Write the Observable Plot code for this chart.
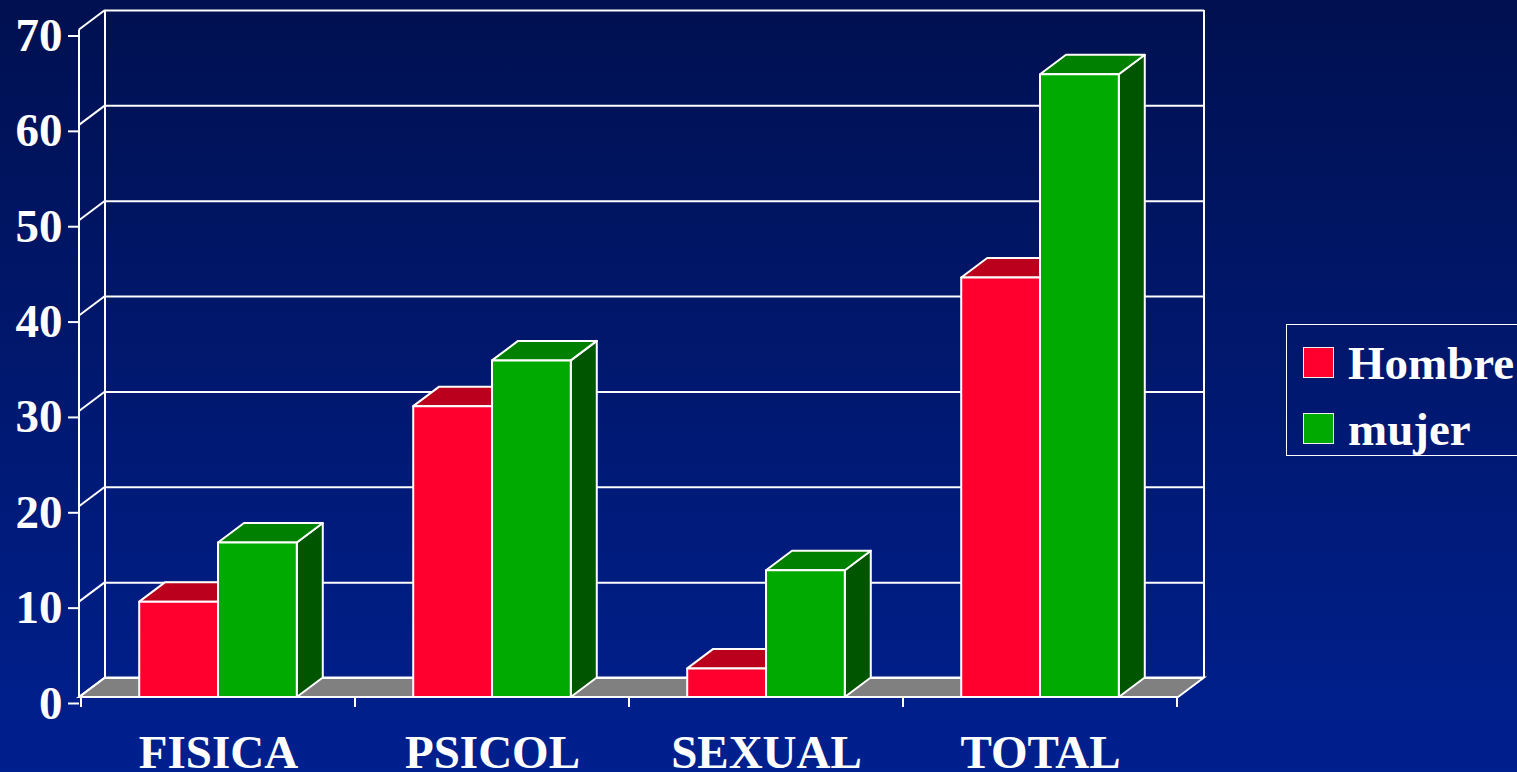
<!DOCTYPE html>
<html>
<head>
<meta charset="utf-8">
<script src="https://cdn.jsdelivr.net/npm/d3@7"></script>
<script src="https://cdn.jsdelivr.net/npm/@observablehq/plot@0.6"></script>
<style>
  html, body { margin: 0; padding: 0; width: 1517px; height: 772px; overflow: hidden; }
  body { background: linear-gradient(to bottom, #001050 0%, #00208f 100%); position: relative; }
  #chart { position: absolute; left: 0; top: 0; }
  #legend { position: absolute; left: 1286px; top: 324px; width: 280px; height: 132px;
            border: 1.5px solid #ffffff; box-sizing: border-box;
            font-family: "Liberation Serif", "Times New Roman", serif; font-weight: bold; font-size: 47px; color: #fff; }
  #legend .sw { position: absolute; left: 16px; width: 31px; height: 31px; box-sizing: border-box; border: 1.5px solid #f0f0f0; }
  #legend .lb { position: absolute; left: 61px; line-height: 47px; white-space: nowrap; }
</style>
</head>
<body>
<div id="chart"></div>
<div id="legend"></div>
<script>
// ---- data ----
const categories = ["FISICA", "PSICOL", "SEXUAL", "TOTAL"];
const series = ["Hombre", "mujer"];
const hombre = [10, 30.5, 3, 44];
const mujer = [16.2, 35.3, 13.3, 65.3];
const yTicks = [0, 10, 20, 30, 40, 50, 60, 70];

// ---- style ----
const frontColors = { Hombre: "#ff002e", mujer: "#00aa00" };
const topColors = { Hombre: "#bb001e", mujer: "#008000" };
const sideColors = { Hombre: "#99001a", mujer: "#005500" };
const DX = 26, DY = -19.5;
const WHITE = "#ffffff";

const rows = [];
categories.forEach((c, i) => {
  rows.push({ cat: c, sex: series[0], value: hombre[i] });
  rows.push({ cat: c, sex: series[1], value: mujer[i] });
});

function frame3d(index, scales, values, dims) {
  const { y } = scales;
  const x0 = dims.marginLeft, x1 = dims.width - dims.marginRight;
  const y0 = y(0);
  const g = d3.create("svg:g").attr("fill", "none").attr("stroke", WHITE).attr("stroke-width", 2);
  // floor
  g.append("path").attr("fill", "#808080")
    .attr("d", `M${x0},${y0}L${x1},${y0}L${x1 + DX},${y0 + DY}L${x0 + DX},${y0 + DY}Z`);
  // left wall diagonals
  for (const t of yTicks) {
    g.append("line").attr("x1", x0).attr("y1", y(t)).attr("x2", x0 + DX).attr("y2", y(t) + DY);
  }
  const yTop = y(d3.max(yTicks));
  // back wall verticals
  g.append("line").attr("x1", x0 + DX).attr("x2", x0 + DX).attr("y1", yTop + DY).attr("y2", y0 + DY);
  g.append("line").attr("x1", x1 + DX).attr("x2", x1 + DX).attr("y1", yTop + DY).attr("y2", y0 + DY);
  return g.node();
}

function frontAxes(index, scales, values, dims) {
  const { x, y } = scales;
  const bw = x.bandwidth();
  const y0 = y(0);
  const x0 = dims.marginLeft;
  const g = d3.create("svg:g").attr("fill", "none").attr("stroke", WHITE).attr("stroke-width", 2);
  g.append("line").attr("x1", x0).attr("x2", x0).attr("y1", y(d3.max(yTicks))).attr("y2", y0);
  const edges = categories.map(c => x(c)).concat([x(categories[categories.length - 1]) + bw]);
  for (const e of edges) {
    g.append("line").attr("x1", e).attr("x2", e).attr("y1", y0).attr("y2", y0 + 10);
  }
  return g.node();
}

function bars3d(index, scales) {
  const { x, y } = scales;
  const bw = x.bandwidth();
  const sub = d3.scaleBand(series, [0, bw]).paddingInner(0).paddingOuter(0.739);
  const sw = sub.bandwidth();
  const g = d3.create("svg:g").attr("stroke", WHITE).attr("stroke-width", 2).attr("stroke-linejoin", "round");
  for (const d of rows) {
    const xl = x(d.cat) + sub(d.sex), xr = xl + sw;
    const yt = y(d.value), yb = y(0);
    g.append("path").attr("fill", sideColors[d.sex])
      .attr("d", `M${xr},${yt}L${xr + DX},${yt + DY}L${xr + DX},${yb + DY}L${xr},${yb}Z`);
    g.append("path").attr("fill", topColors[d.sex])
      .attr("d", `M${xl},${yt}L${xr},${yt}L${xr + DX},${yt + DY}L${xl + DX},${yt + DY}Z`);
    g.append("rect").attr("fill", frontColors[d.sex])
      .attr("x", xl).attr("y", yt).attr("width", sw).attr("height", yb - yt);
  }
  return g.node();
}

const chart = Plot.plot({
  width: 1517,
  height: 772,
  marginTop: 29.5,
  marginBottom: 75,
  marginLeft: 79,
  marginRight: 339,
  style: { background: "transparent", color: WHITE, fontFamily: "'Liberation Serif', 'Times New Roman', serif", overflow: "visible" },
  x: { type: "band", domain: categories, padding: 0, axis: null },
  y: { domain: [0, 70], axis: null },
  marks: [
    frame3d,
    Plot.ruleY(yTicks, { dx: DX, dy: DY, stroke: WHITE, strokeWidth: 2 }),
    frontAxes,
    bars3d,
    Plot.axisY(yTicks, { tickSize: 11, tickPadding: 6, fontSize: 47, fontWeight: "bold", stroke: WHITE, strokeWidth: 2, fill: WHITE, dy: 6, label: null, tickFormat: d => String(d) }),
    Plot.axisX({ tickSize: 0, tickPadding: 37, fontSize: 47, fontWeight: "bold", fill: WHITE, label: null })
  ]
});
document.getElementById("chart").appendChild(chart);

// ---- legend ----
const legend = d3.select("#legend");
series.forEach((s, i) => {
  legend.append("div").attr("class", "sw").style("top", (22 + i * 66) + "px").style("background", frontColors[s]);
  legend.append("div").attr("class", "lb").style("top", (14.6 + i * 66) + "px").text(s);
});
</script>
</body>
</html>
